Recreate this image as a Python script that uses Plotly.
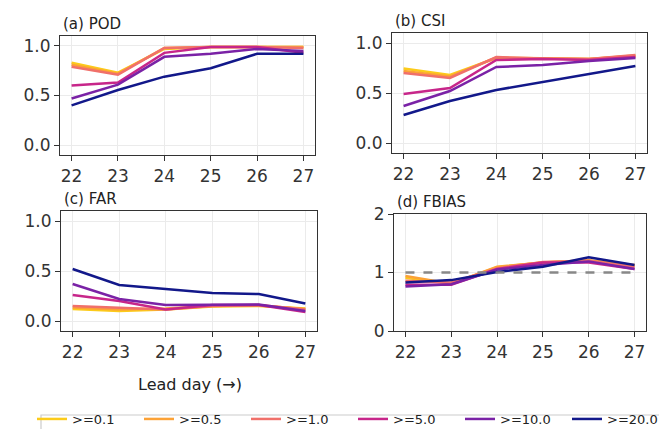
import plotly.graph_objects as go

days = [22, 23, 24, 25, 26, 27]
thresholds = [">=0.1", ">=0.5", ">=1.0", ">=5.0", ">=10.0", ">=20.0"]
colors = ["#FCCB1A", "#FCA236", "#F0706A", "#C7268A", "#7A22A6", "#12188A"]

pod = {
    ">=0.1": [0.83, 0.73, 0.97, 0.99, 0.99, 0.99],
    ">=0.5": [0.81, 0.72, 0.98, 0.99, 0.99, 0.99],
    ">=1.0": [0.79, 0.71, 0.98, 0.99, 0.99, 0.98],
    ">=5.0": [0.60, 0.63, 0.93, 0.99, 0.99, 0.93],
    ">=10.0": [0.47, 0.61, 0.89, 0.92, 0.97, 0.95],
    ">=20.0": [0.40, 0.555, 0.69, 0.775, 0.92, 0.92],
}
csi = {
    ">=0.1": [0.745, 0.68, 0.85, 0.845, 0.84, 0.87],
    ">=0.5": [0.72, 0.665, 0.855, 0.845, 0.84, 0.875],
    ">=1.0": [0.70, 0.65, 0.86, 0.845, 0.84, 0.88],
    ">=5.0": [0.49, 0.55, 0.83, 0.84, 0.83, 0.86],
    ">=10.0": [0.37, 0.52, 0.76, 0.78, 0.82, 0.85],
    ">=20.0": [0.28, 0.42, 0.53, 0.61, 0.69, 0.77],
}
far = {
    ">=0.1": [0.12, 0.10, 0.115, 0.145, 0.15, 0.125],
    ">=0.5": [0.135, 0.115, 0.125, 0.15, 0.155, 0.12],
    ">=1.0": [0.15, 0.13, 0.115, 0.15, 0.16, 0.115],
    ">=5.0": [0.26, 0.20, 0.115, 0.16, 0.16, 0.09],
    ">=10.0": [0.37, 0.22, 0.16, 0.165, 0.165, 0.10],
    ">=20.0": [0.52, 0.36, 0.32, 0.28, 0.27, 0.175],
}
fbias = {
    ">=0.1": [0.91, 0.81, 1.09, 1.17, 1.20, 1.12],
    ">=0.5": [0.94, 0.81, 1.10, 1.17, 1.21, 1.13],
    ">=1.0": [0.86, 0.83, 1.07, 1.18, 1.20, 1.10],
    ">=5.0": [0.79, 0.79, 1.06, 1.17, 1.17, 1.06],
    ">=10.0": [0.76, 0.80, 1.05, 1.13, 1.19, 1.06],
    ">=20.0": [0.83, 0.87, 1.01, 1.10, 1.26, 1.13],
}
panels = [("(a) POD", pod), ("(b) CSI", csi), ("(c) FAR", far), ("(d) FBIAS", fbias)]

W, H = 667, 429
# pixel boxes (left, right, top, bottom)
boxes = [(52, 307, 28, 147), (384, 639, 25, 145), (53, 309, 203, 323), (386, 638, 206, 323)]

fig = go.Figure()
for i, (title, data) in enumerate(panels):
    ax = "" if i == 0 else str(i + 1)
    for name, col in zip(thresholds, colors):
        fig.add_trace(go.Scatter(
            x=days, y=data[name], mode="lines", name=name,
            line=dict(color=col, width=2.5),
            xaxis="x" + ax, yaxis="y" + ax,
            showlegend=(i == 0),
        ))
    l, r, t, b = boxes[i]
    common = dict(showline=True, linecolor="#333333", linewidth=1.2, mirror=True,
                  ticks="outside", ticklen=5, tickcolor="#333333",
                  showgrid=True, gridcolor="#ebebeb", gridwidth=1, zeroline=False,
                  tickfont=dict(family="DejaVu Sans", size=17, color="#333333"))
    fig.update_layout(**{
        "xaxis" + ax: dict(domain=[l / W, r / W], anchor="y" + ax, range=[21.75, 27.25],
                           tickvals=days, **common),
        "yaxis" + ax: dict(domain=[1 - b / H, 1 - t / H], anchor="x" + ax,
                           range=[0, 2] if i == 3 else [-0.1, 1.1],
                           tickvals=[0, 1, 2] if i == 3 else [0, 0.5, 1.0],
                           tickformat="d" if i == 3 else ".1f", **common),
    })
    fig.add_annotation(text=title, xref="paper", yref="paper", x=(l + 1) / W, y=1 - (t - 1) / H,
                       xanchor="left", yanchor="bottom", showarrow=False,
                       font=dict(family="DejaVu Sans", size=15, color="#222222"))

fig.add_trace(go.Scatter(x=[22, 27], y=[1, 1], mode="lines", xaxis="x4", yaxis="y4",
                         line=dict(color="#888888", width=2.5, dash="dash"), showlegend=False))

fig.add_annotation(text="Lead day (→)", xref="paper", yref="paper", x=182 / W, y=1 - 376 / H,
                   xanchor="center", yanchor="middle", showarrow=False,
                   font=dict(family="DejaVu Sans", size=16, color="#222222"))

# legend frame (clipped by the bottom edge, as in the reference)
fig.add_shape(type="rect", xref="paper", yref="paper",
              x0=33 / W, x1=666 / W, y0=-0.05, y1=1 - 407 / H,
              line=dict(color="#cccccc", width=1.2), fillcolor="rgba(0,0,0,0)", layer="below")

fig.update_layout(
    width=W, height=H, margin=dict(l=0, r=0, t=0, b=0, autoexpand=False),
    paper_bgcolor="white", plot_bgcolor="white",
    legend=dict(orientation="h", x=24 / W, y=1 - 396 / H, xanchor="left", yanchor="top",
                itemwidth=30, entrywidth=62, entrywidthmode="pixels",
                borderwidth=0, bgcolor="rgba(0,0,0,0)",
                font=dict(family="DejaVu Sans", size=13, color="#222222")),
)
fig.write_html("out.html")
